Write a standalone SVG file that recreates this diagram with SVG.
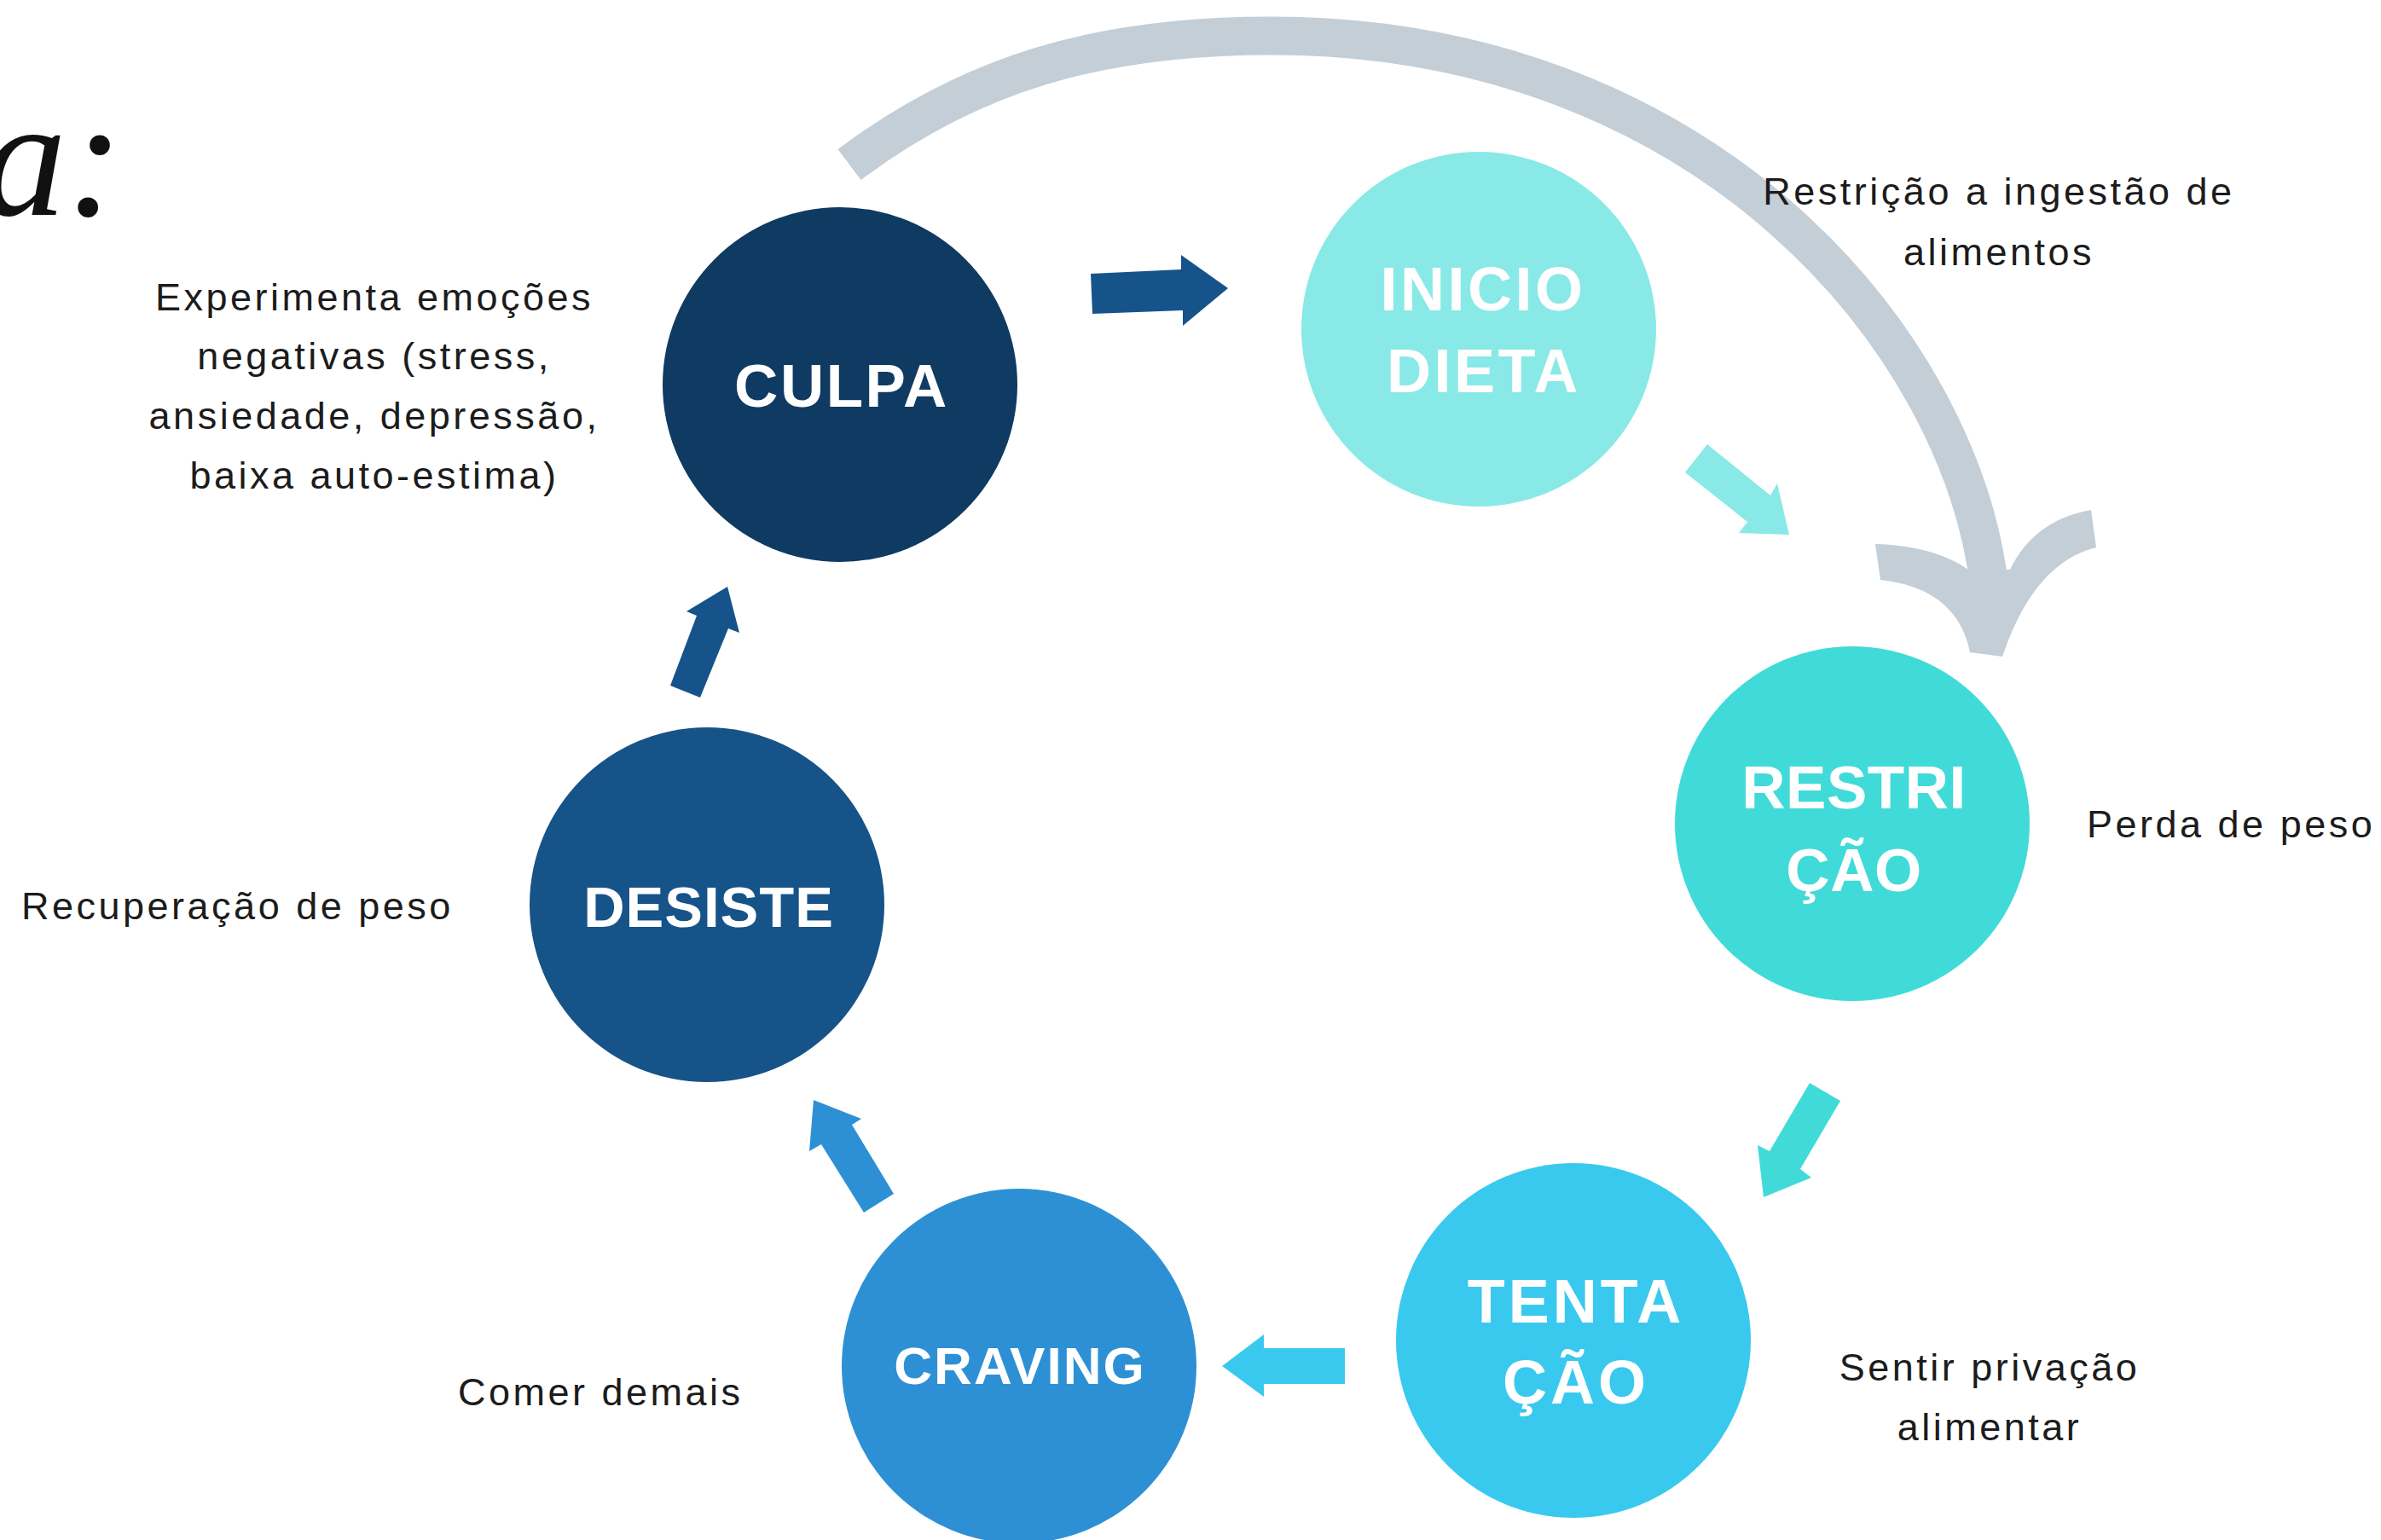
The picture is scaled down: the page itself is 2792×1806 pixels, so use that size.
<svg xmlns="http://www.w3.org/2000/svg" width="2792" height="1806" viewBox="0 0 2792 1806">
<style>
.node-t{font-family:"Liberation Sans",Arial,sans-serif;font-weight:bold;fill:#ffffff;text-anchor:middle}
.lbl{font-family:"Liberation Sans",Arial,sans-serif;font-size:45px;fill:#1c1c1c;letter-spacing:3.5px}
.mid{text-anchor:middle}
</style>
<rect x="0" y="0" width="2792" height="1806" fill="#ffffff"/>
<text x="-22" y="252" font-family="'Liberation Serif','Times New Roman',serif" font-style="italic" font-size="200" fill="#111111">a:</text>

<g id="connectors">
  <g id="loop-arrow" fill="#c3ced7">
    <path d="M996,193 C1140,85 1290,42 1491,42 C2000,42 2300,400 2333,690" fill="none" stroke="#c3ced7" stroke-width="45"/>
    <path d="M2199,638 Q2270,640 2311,670 L2357,668 Q2385,610 2452,598 L2458,642 Q2385,660 2348,770 L2310,765 Q2295,690 2205,680 Z"/>
  </g>
  <polygon id="a-culpa-inicio" fill="#16538a" points="1279,321 1385,316 1385,299 1440,338 1387,382 1387,364 1281,368"/>
  <polygon id="a-inicio-restricao" fill="#89e9e7" points="2002,521 2076,581 2084,567 2098,627 2039,625 2049,612 1976,554"/>
  <polygon id="a-restricao-tentacao" fill="#40dbd8" points="2122,1270 2158,1291 2111,1371 2124,1381 2068,1404 2061,1343 2075,1350"/>
  <polygon id="a-tentacao-craving" fill="#3ac9ee" points="1577,1581 1482,1581 1482,1565 1433,1602 1482,1638 1482,1623 1577,1623"/>
  <polygon id="a-craving-desiste" fill="#2e90d4" points="1048,1400 999,1319 1010,1312 954,1290 949,1350 963,1342 1013,1422"/>
  <polygon id="a-desiste-culpa" fill="#16538a" points="821,818 854,737 867,742 853,688 805,717 817,722 786,804"/>
</g>

<g id="node-culpa">
  <circle cx="985" cy="451" r="208" fill="#0f3a62"/>
  <text class="node-t" x="987" y="477" font-size="71" letter-spacing="2.5">CULPA</text>
</g>
<g id="node-inicio-dieta">
  <circle cx="1734" cy="386" r="208" fill="#89e9e7"/>
  <text class="node-t" x="1739" y="364" font-size="72" letter-spacing="3.5">INICIO</text>
  <text class="node-t" x="1740" y="460" font-size="72" letter-spacing="3.5">DIETA</text>
</g>
<g id="node-restricao">
  <circle cx="2172" cy="966" r="208" fill="#40dbd8"/>
  <text class="node-t" x="2174" y="948" font-size="71" letter-spacing="0.5">RESTRI</text>
  <text class="node-t" x="2174" y="1045" font-size="71" letter-spacing="0.5">ÇÃO</text>
</g>
<g id="node-tentacao">
  <circle cx="1845" cy="1572" r="208" fill="#3ac9ee"/>
  <text class="node-t" x="1848" y="1551" font-size="72" letter-spacing="4">TENTA</text>
  <text class="node-t" x="1848" y="1646" font-size="72" letter-spacing="4">ÇÃO</text>
</g>
<g id="node-craving">
  <circle cx="1195" cy="1602" r="208" fill="#2e90d4"/>
  <text class="node-t" x="1196" y="1623" font-size="62" letter-spacing="2">CRAVING</text>
</g>
<g id="node-desiste">
  <circle cx="829" cy="1061" r="208" fill="#165388"/>
  <text class="node-t" x="831" y="1087" font-size="67" letter-spacing="1">DESISTE</text>
</g>

<g id="label-culpa">
  <text class="lbl mid" x="439" y="364">Experimenta emoções</text>
  <text class="lbl mid" x="439" y="433">negativas (stress,</text>
  <text class="lbl mid" x="439" y="503">ansiedade, depressão,</text>
  <text class="lbl mid" x="439" y="573">baixa auto-estima)</text>
</g>
<g id="label-inicio">
  <text class="lbl mid" x="2344" y="240">Restrição a ingestão de</text>
  <text class="lbl mid" x="2344" y="311">alimentos</text>
</g>
<g id="label-restricao">
  <text class="lbl" x="2447" y="982">Perda de peso</text>
</g>
<g id="label-tentacao">
  <text class="lbl mid" x="2333" y="1619">Sentir privação</text>
  <text class="lbl mid" x="2333" y="1689">alimentar</text>
</g>
<g id="label-craving">
  <text class="lbl" x="537" y="1648">Comer demais</text>
</g>
<g id="label-desiste">
  <text class="lbl" x="25" y="1078">Recuperação de peso</text>
</g>
</svg>
